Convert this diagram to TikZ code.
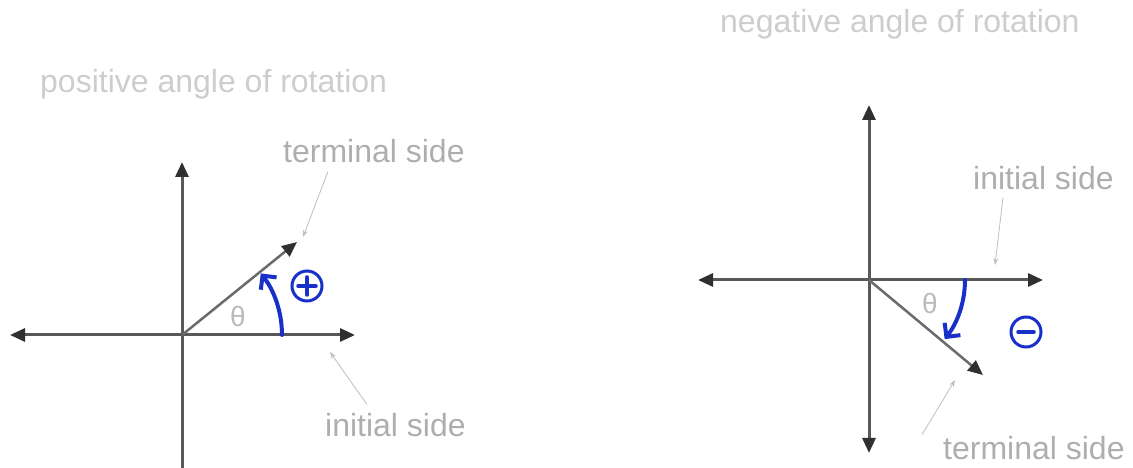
\documentclass[tikz,border=0pt]{standalone}
\usepackage{fontspec}
\setmainfont{Liberation Sans}
\usetikzlibrary{arrows.meta}
\definecolor{axisgray}{HTML}{585858}
\definecolor{tipgray}{HTML}{303030}
\definecolor{raygray}{HTML}{6A6A6A}
\definecolor{labgray}{HTML}{AEAEAE}
\definecolor{titlegray}{HTML}{CDCDCD}
\definecolor{penblue}{HTML}{1830C8}

\begin{document}
\begin{tikzpicture}[x=1pt, y=1pt,
  font=\fontsize{32}{38}\selectfont, >={Triangle[length=15pt, width=13pt, color=tipgray]},
  axis/.style={draw=axisgray, line width=3pt},
  ray/.style={draw=raygray, line width=2.5pt, ->},
  lead/.style={draw=labgray!80, line width=0.8pt, -{Stealth[length=7pt, width=5pt]}},
  lab/.style={text=labgray, inner sep=0pt, anchor=base west},
  ttl/.style={text=titlegray, inner sep=0pt, anchor=base west},
  ang/.style={text=labgray!85, font=\fontsize{28}{32}\selectfont},
  turn/.style={draw=penblue, line width=4pt, line cap=round, -{Straight Barb[length=10pt, width=20pt]}},
  sign/.style={draw=penblue, line width=3pt, circle, minimum size=30pt, inner sep=0pt}]
\useasboundingbox (0,0) rectangle (1133,468);

% positive angle
\coordinate (O1) at (182,133);
\coordinate (L1) at (10,133);
\coordinate (R1) at (355,133);
\coordinate (U1) at (182,306);
\coordinate (D1) at (182,0);
\coordinate (T1) at (297,226);
\draw[axis, <->] (L1) -- (R1);
\draw[axis, ->] (D1) -- (U1);
\draw[ray] (O1) -- (T1);
\node[ang] (th1) at (238,151) {θ};
\draw[turn] (282,133) arc[start angle=0, end angle=38, radius=100];
\node[sign] (plus) at (307,182) {};
\draw[penblue, line width=3.5pt, line cap=round] ([yshift=-9pt]plus.center) -- ([yshift=9pt]plus.center)
  ([xshift=-9pt]plus.center) -- ([xshift=9pt]plus.center);
\node[ttl] (pos) at (40,375) {positive angle of rotation};
\node[lab] (tsA) at (283,305) {terminal side};
\node[lab] (isA) at (325,31) {initial side};
\coordinate (tsAend) at (303,231);
\coordinate (isAend) at (330,116);
\draw[lead] ([shift={(45pt,-8pt)}]tsA.south west) -- (tsAend);
\draw[lead] ([shift={(42pt,9pt)}]isA.north west) -- (isAend);

% negative angle
\coordinate (O2) at (869,188);
\coordinate (L2) at (698,188);
\coordinate (R2) at (1043,188);
\coordinate (U2) at (869,363);
\coordinate (D2) at (869,15);
\coordinate (T2) at (983,93);
\draw[axis, <->] (L2) -- (R2);
\draw[axis, <->] (D2) -- (U2);
\draw[ray] (O2) -- (T2);
\node[ang] (th2) at (930,164) {θ};
\draw[turn] (965,188) arc[start angle=0, end angle=-38, radius=96];
\node[sign] (minus) at (1026,136) {};
\draw[penblue, line width=3.5pt, line cap=round] ([xshift=-8pt]minus.center) -- ([xshift=8pt]minus.center);
\node[ttl] (neg) at (720,435) {negative angle of rotation};
\node[lab] (isB) at (973,278) {initial side};
\node[lab] (tsB) at (943,8) {terminal side};
\coordinate (isBend) at (995,203);
\coordinate (tsBend) at (955,88);
\draw[lead] ([shift={(30pt,-7pt)}]isB.south west) -- (isBend);
\draw[lead] ([shift={(-21pt,2pt)}]tsB.north west) -- (tsBend);
\end{tikzpicture}
\end{document}
